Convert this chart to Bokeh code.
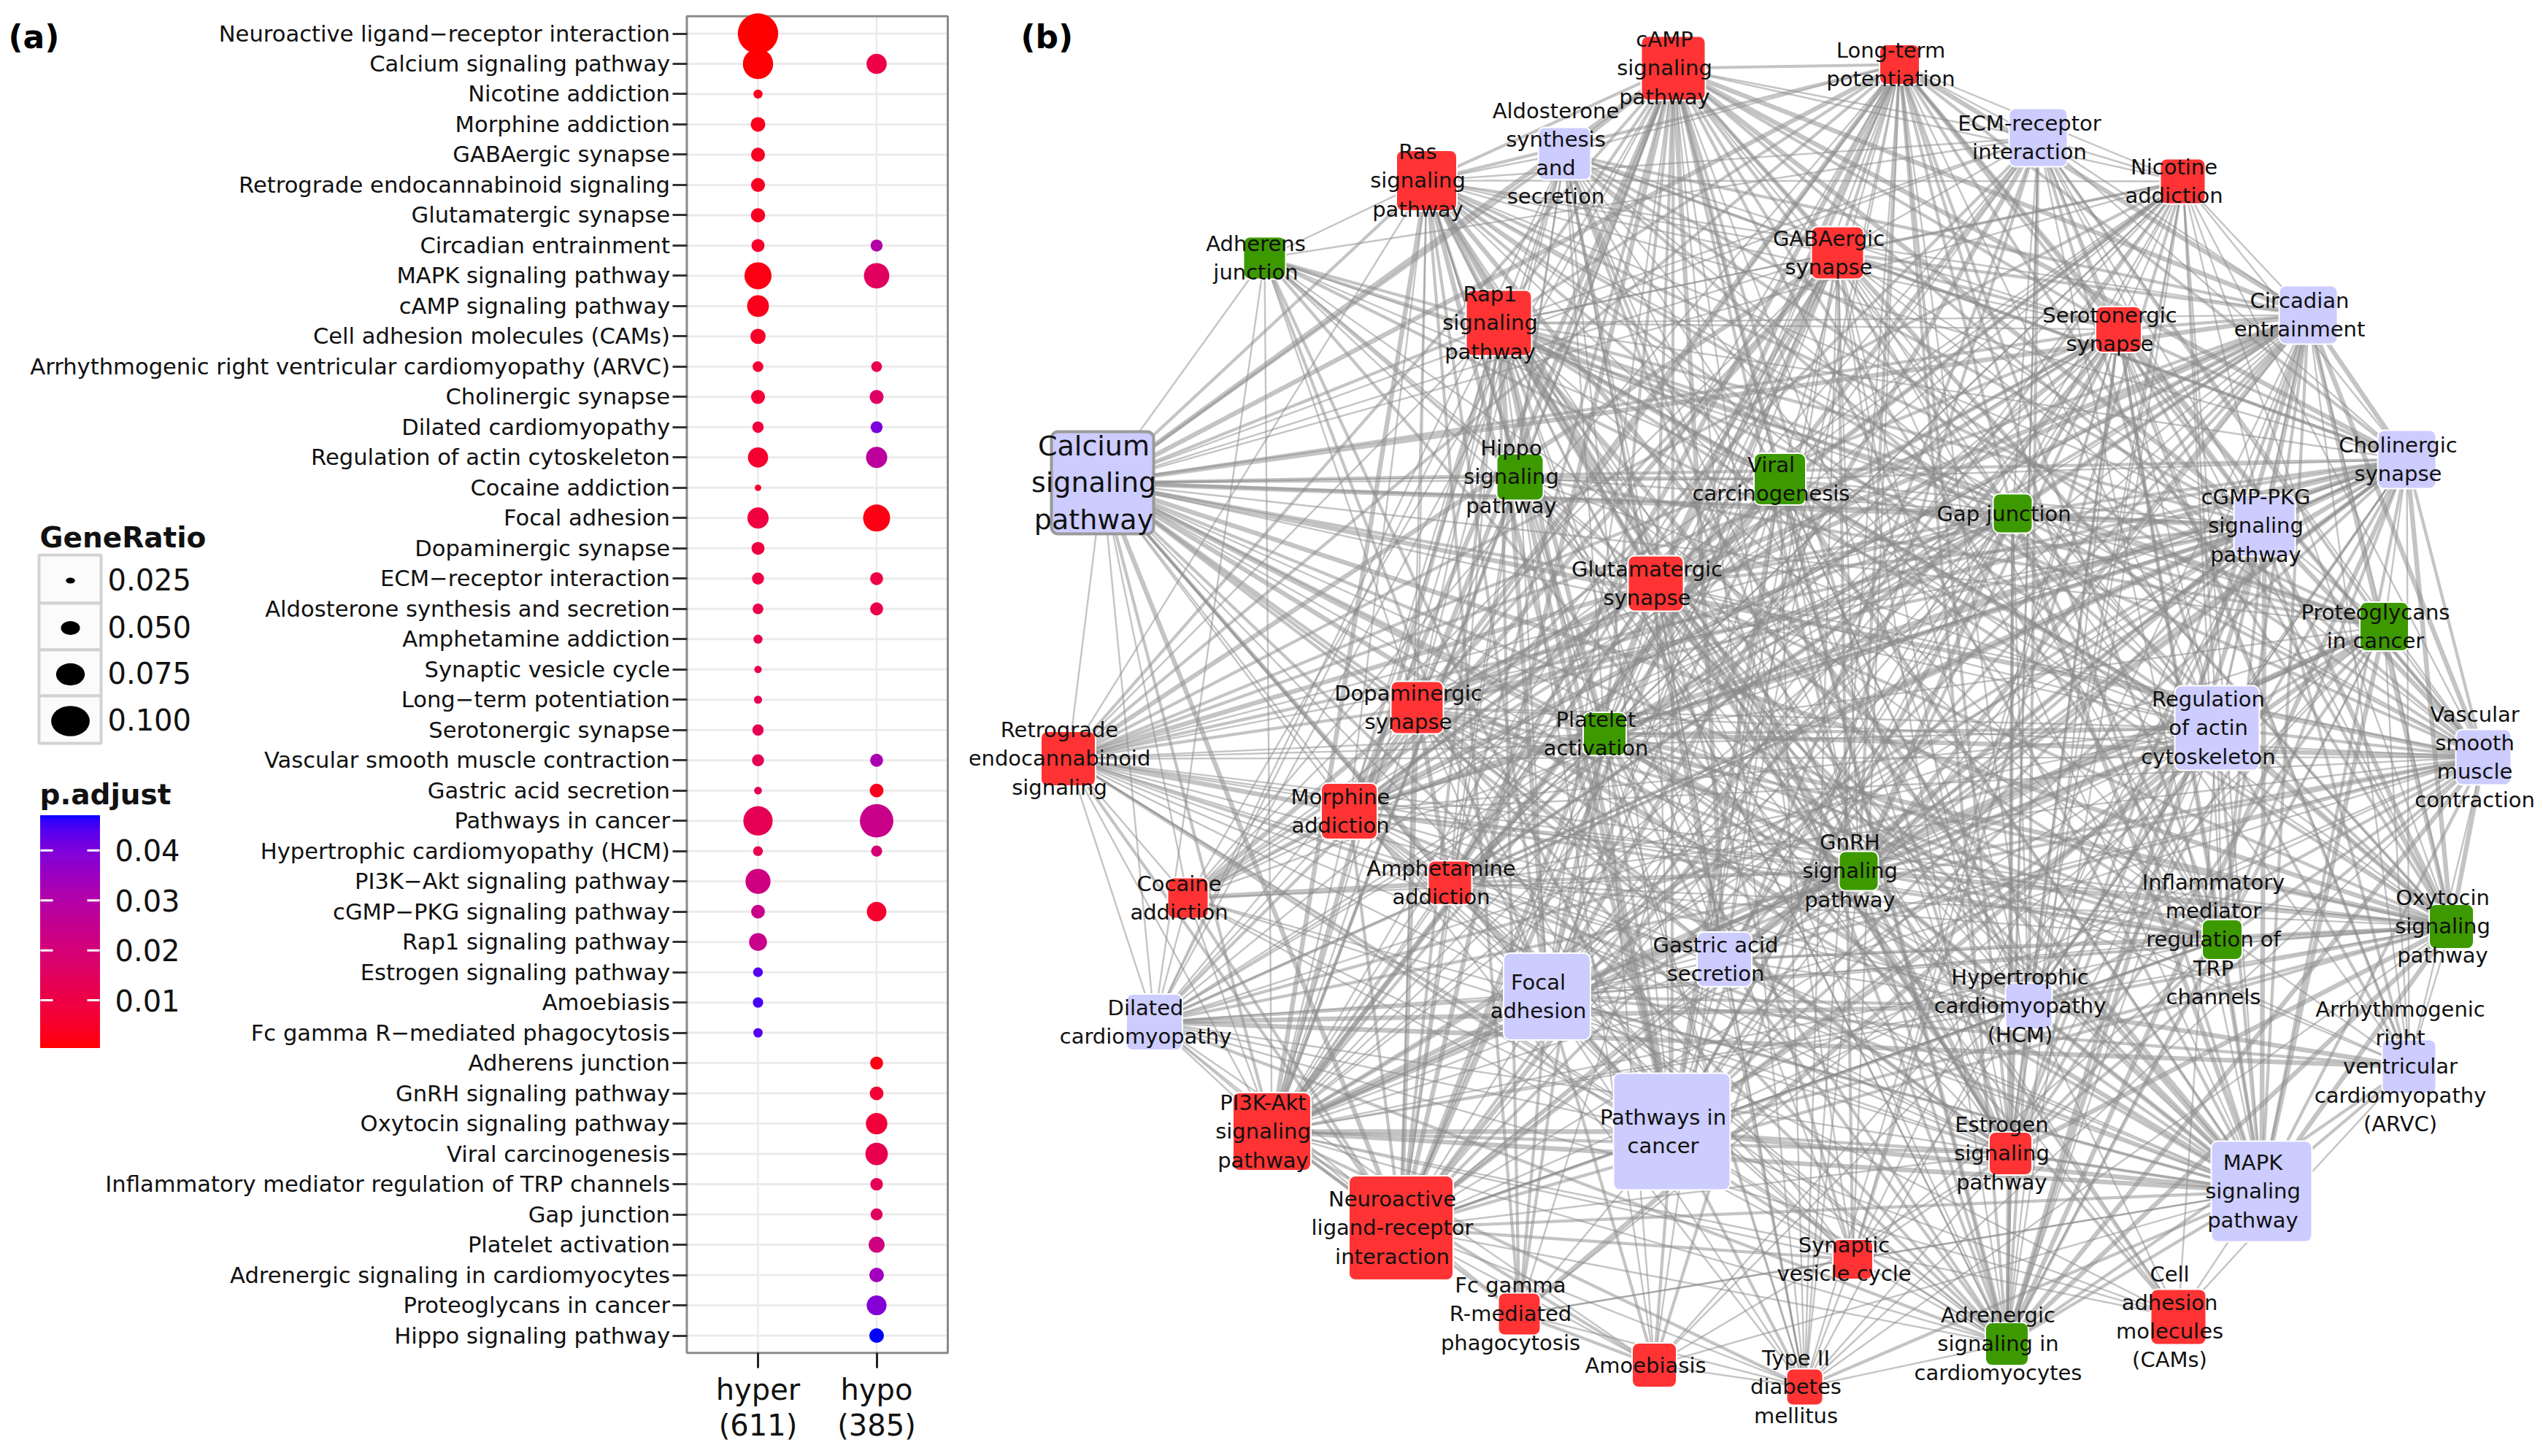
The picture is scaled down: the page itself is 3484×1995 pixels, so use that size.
import numpy as np
from bokeh.plotting import figure
from bokeh.models import ColumnDataSource, Range1d, FixedTicker, Label
from bokeh.layouts import row
from bokeh.embed import file_html
from bokeh.resources import INLINE
from bokeh.core.properties import value

# ====================== DATA : panel (a) dot plot ======================
categories = [
    "Neuroactive ligand−receptor interaction", "Calcium signaling pathway", "Nicotine addiction",
    "Morphine addiction", "GABAergic synapse", "Retrograde endocannabinoid signaling",
    "Glutamatergic synapse", "Circadian entrainment", "MAPK signaling pathway",
    "cAMP signaling pathway", "Cell adhesion molecules (CAMs)",
    "Arrhythmogenic right ventricular cardiomyopathy (ARVC)", "Cholinergic synapse",
    "Dilated cardiomyopathy", "Regulation of actin cytoskeleton", "Cocaine addiction",
    "Focal adhesion", "Dopaminergic synapse", "ECM−receptor interaction",
    "Aldosterone synthesis and secretion", "Amphetamine addiction", "Synaptic vesicle cycle",
    "Long−term potentiation", "Serotonergic synapse", "Vascular smooth muscle contraction",
    "Gastric acid secretion", "Pathways in cancer", "Hypertrophic cardiomyopathy (HCM)",
    "PI3K−Akt signaling pathway", "cGMP−PKG signaling pathway", "Rap1 signaling pathway",
    "Estrogen signaling pathway", "Amoebiasis", "Fc gamma R−mediated phagocytosis",
    "Adherens junction", "GnRH signaling pathway", "Oxytocin signaling pathway",
    "Viral carcinogenesis", "Inflammatory mediator regulation of TRP channels", "Gap junction",
    "Platelet activation", "Adrenergic signaling in cardiomyocytes", "Proteoglycans in cancer",
    "Hippo signaling pathway",
]
N = None
hyper_ratio = [0.131, 0.100, 0.035, 0.052, 0.050, 0.050, 0.051, 0.047, 0.090, 0.074,
               0.054, 0.040, 0.050, 0.042, 0.069, 0.027, 0.072, 0.047, 0.044, 0.040,
               0.035, 0.030, 0.032, 0.042, 0.044, 0.031, 0.097, 0.037, 0.084, 0.049,
               0.062, 0.037, 0.039, 0.036, N, N, N, N, N, N, N, N, N, N]
hyper_padj = [0.0005, 0.0008, 0.003, 0.003, 0.004, 0.004, 0.004, 0.005, 0.002, 0.003,
              0.005, 0.007, 0.007, 0.008, 0.006, 0.006, 0.009, 0.009, 0.010, 0.011,
              0.012, 0.012, 0.013, 0.013, 0.013, 0.014, 0.013, 0.012, 0.022, 0.024,
              0.024, 0.044, 0.045, 0.044, N, N, N, N, N, N, N, N, N, N]
hypo_ratio = [N, 0.069, N, N, N, N, N, 0.044, 0.085, N,
              N, 0.040, 0.050, 0.044, 0.072, N, 0.090, N, 0.047, 0.047,
              N, N, N, N, 0.047, 0.049, 0.110, 0.041, N, 0.067,
              N, N, N, N, 0.047, 0.049, 0.073, 0.076, 0.046, 0.044,
              0.056, 0.052, 0.068, 0.052]
hypo_padj = [N, 0.010, N, N, N, N, N, 0.030, 0.015, N,
             N, 0.012, 0.016, 0.040, 0.028, N, 0.002, N, 0.010, 0.011,
             N, N, N, N, 0.032, 0.003, 0.024, 0.020, N, 0.006,
             N, N, N, N, 0.002, 0.007, 0.008, 0.012, 0.014, 0.015,
             0.022, 0.034, 0.039, 0.047]
groups = ["hyper", "hypo"]
group_sizes = [611, 385]
legend_ratios = [0.025, 0.050, 0.075, 0.100]
colorbar_ticks = [0.01, 0.02, 0.03, 0.04]

# ====================== DATA : panel (b) enrichment map ======================
node_code = ["CAMP", "ALDO", "RAS", "ADH", "RAP1", "CALC", "HIPPO", "VIRAL", "LTP", "ECM",
             "NIC", "GABA", "SERO", "CIRC", "CHOL", "CGMP", "GAP", "GLUT", "DOPA", "PLT",
             "RETRO", "MORPH", "COC", "AMPH", "GAST", "FOCAL", "DCM", "PROTEO", "ACTIN", "VSMC",
             "GNRH", "TRP", "OXY", "HCM", "PI3K", "CANCER", "NEURO", "FC", "AMOEB", "T2D",
             "ESTRO", "SYN", "ADREN", "CAM", "MAPK", "ARVC"]
node_label = [
    "cAMP\nsignaling\npathway", "Aldosterone\nsynthesis\nand\nsecretion", "Ras\nsignaling\npathway",
    "Adherens\njunction", "Rap1\nsignaling\npathway", "Calcium\nsignaling\npathway",
    "Hippo\nsignaling\npathway", "Viral\ncarcinogenesis", "Long-term\npotentiation",
    "ECM-receptor\ninteraction", "Nicotine\naddiction", "GABAergic\nsynapse",
    "Serotonergic\nsynapse", "Circadian\nentrainment", "Cholinergic\nsynapse",
    "cGMP-PKG\nsignaling\npathway", "Gap junction", "Glutamatergic\nsynapse",
    "Dopaminergic\nsynapse", "Platelet\nactivation", "Retrograde\nendocannabinoid\nsignaling",
    "Morphine\naddiction", "Cocaine\naddiction", "Amphetamine\naddiction",
    "Gastric acid\nsecretion", "Focal\nadhesion", "Dilated\ncardiomyopathy",
    "Proteoglycans\nin cancer", "Regulation\nof actin\ncytoskeleton",
    "Vascular\nsmooth\nmuscle\ncontraction", "GnRH\nsignaling\npathway",
    "Inflammatory\nmediator\nregulation of\nTRP\nchannels", "Oxytocin\nsignaling\npathway",
    "Hypertrophic\ncardiomyopathy\n(HCM)", "PI3K-Akt\nsignaling\npathway", "Pathways in\ncancer",
    "Neuroactive\nligand-receptor\ninteraction", "Fc gamma\nR-mediated\nphagocytosis",
    "Amoebiasis", "Type II\ndiabetes\nmellitus", "Estrogen\nsignaling\npathway",
    "Synaptic\nvesicle cycle", "Adrenergic\nsignaling in\ncardiomyocytes",
    "Cell\nadhesion\nmolecules\n(CAMs)", "MAPK\nsignaling\npathway",
    "Arrhythmogenic\nright\nventricular\ncardiomyopathy\n(ARVC)"]
node_group = ["hyper", "both", "hyper", "hypo", "hyper", "both", "hypo", "hypo", "hyper", "both",
              "hyper", "hyper", "hyper", "both", "both", "both", "hypo", "hyper", "hyper", "hypo",
              "hyper", "hyper", "hyper", "hyper", "both", "both", "both", "hypo", "both", "both",
              "hypo", "hypo", "hypo", "both", "hyper", "both", "hyper", "hyper", "hyper", "hyper",
              "hyper", "hyper", "hypo", "hyper", "both", "both"]
# network layout coordinates
node_x = [2292, 2143, 1954, 1732, 2053, 1510, 2082, 2438, 2602, 2792,
          2990, 2517, 2902, 3162, 3297, 3102, 2757, 2268, 1941, 2198,
          1463, 1848, 1627, 1986, 2362, 2119, 1581, 3266, 3037, 3402,
          2546, 3044, 3358, 2779, 1742, 2290, 1919, 2081, 2266, 2472,
          2754, 2538, 2749, 2984, 3098, 3300]
node_y = [93, 210, 247, 353, 442, 661, 653, 656, 88, 188,
          248, 346, 451, 431, 629, 720, 703, 799, 969, 1005,
          1039, 1111, 1230, 1209, 1314, 1365, 1400, 858, 997, 1037,
          1193, 1287, 1269, 1378, 1550, 1550, 1682, 1800, 1870, 1900,
          1580, 1725, 1841, 1804, 1632, 1461]
node_size = [88, 72, 83, 58, 90, 140, 64, 71, 55, 80,
             62, 72, 63, 80, 80, 84, 54, 76, 72, 59,
             75, 77, 56, 60, 75, 119, 77, 67, 116, 76,
             54, 55, 61, 64, 107, 160, 143, 58, 61, 50,
             59, 55, 59, 76, 138, 74]
node_links = [
    "CAMP | ALDO:3 RAS:2 RAP1:2 CALC:3 LTP:2 NIC:1 GABA:2 SERO:2 CIRC:3 CHOL:3 CGMP:3 GAP:2 GLUT:2 DOPA:3 PLT:2 RETRO:2 MORPH:3 COC:1 AMPH:2 GAST:3 VSMC:2 GNRH:2 TRP:2 OXY:2 PI3K:2 CANCER:2 NEURO:3 ESTRO:2 SYN:1 ADREN:3 MAPK:2 HIPPO:1 VIRAL:1 ECM:1 DCM:1 HCM:1 T2D:1 ACTIN:1 FOCAL:1",
    "ALDO | RAS:1 RAP1:1 CALC:2 LTP:1 GABA:1 SERO:1 CIRC:2 CHOL:2 CGMP:2 GAP:1 GLUT:1 DOPA:1 PLT:1 MORPH:1 AMPH:1 GAST:2 VSMC:2 GNRH:2 TRP:1 OXY:2 ESTRO:1 ADREN:2 NEURO:1 MAPK:1 PI3K:1 CANCER:1 T2D:1 HCM:1 DCM:1",
    "RAS | ADH:1 RAP1:3 CALC:2 VIRAL:2 LTP:2 ECM:1 NIC:1 GABA:1 SERO:1 CIRC:1 CHOL:1 CGMP:1 GAP:2 GLUT:2 DOPA:1 PLT:2 RETRO:1 MORPH:1 FOCAL:2 PROTEO:2 ACTIN:2 VSMC:1 GNRH:2 TRP:1 OXY:1 PI3K:3 CANCER:3 NEURO:1 FC:2 ESTRO:2 ADREN:1 MAPK:3 T2D:1 CAM:1 HIPPO:1",
    "ADH | RAP1:2 CALC:1 HIPPO:2 VIRAL:1 ECM:1 GAP:1 FOCAL:2 PROTEO:2 ACTIN:2 CANCER:2 CAM:2 MAPK:1 PI3K:1 ARVC:1 DCM:1 GLUT:1 DOPA:1",
    "RAP1 | CALC:2 HIPPO:1 VIRAL:2 LTP:2 ECM:1 NIC:1 GABA:1 SERO:1 CIRC:1 CHOL:1 CGMP:2 GAP:2 GLUT:2 DOPA:1 PLT:3 RETRO:1 MORPH:1 AMPH:1 GAST:1 FOCAL:3 PROTEO:2 ACTIN:3 VSMC:2 GNRH:2 TRP:1 OXY:2 HCM:1 PI3K:3 CANCER:3 NEURO:2 FC:2 ESTRO:2 ADREN:1 CAM:2 MAPK:3 SYN:1 DCM:1",
    "CALC | HIPPO:1 VIRAL:1 LTP:3 ECM:1 NIC:1 GABA:1 SERO:2 CIRC:3 CHOL:2 CGMP:3 GAP:2 GLUT:2 DOPA:2 PLT:2 RETRO:1 MORPH:1 COC:1 AMPH:2 GAST:2 FOCAL:1 DCM:1 PROTEO:1 ACTIN:1 VSMC:3 GNRH:3 TRP:2 OXY:3 HCM:1 PI3K:2 CANCER:2 NEURO:3 T2D:1 ESTRO:2 SYN:1 ADREN:2 MAPK:3 ARVC:1",
    "HIPPO | VIRAL:2 GAP:1 FOCAL:1 PROTEO:2 ACTIN:1 PI3K:2 CANCER:3 MAPK:2 CAM:1 ESTRO:1 GNRH:1 DOPA:1 GLUT:1 AMOEB:1",
    "VIRAL | GAP:1 FOCAL:2 PROTEO:2 ACTIN:2 PI3K:3 CANCER:3 MAPK:2 CAM:1 HCM:1 ESTRO:1 GNRH:1 OXY:1 AMOEB:1 FC:1 CGMP:1 CHOL:1 PLT:1 ADREN:1 LTP:1 GLUT:1 T2D:1",
    "LTP | ECM:1 NIC:1 GABA:2 SERO:2 CIRC:3 CHOL:2 CGMP:2 GAP:2 GLUT:3 DOPA:3 PLT:1 RETRO:2 MORPH:2 COC:1 AMPH:3 GAST:1 VSMC:2 GNRH:2 TRP:2 OXY:2 NEURO:1 ESTRO:2 SYN:1 ADREN:2 MAPK:2 PI3K:1 CANCER:1 T2D:1 FOCAL:1 ACTIN:1 HCM:1",
    "ECM | NIC:1 GABA:1 CIRC:1 CHOL:1 CGMP:1 GAP:1 PLT:1 FOCAL:3 DCM:2 PROTEO:2 ACTIN:2 VSMC:1 HCM:2 PI3K:3 CANCER:2 AMOEB:2 ARVC:2 MAPK:1 SERO:1 GLUT:1 ESTRO:1 OXY:1 ADREN:1",
    "NIC | GABA:2 SERO:1 CIRC:1 CHOL:1 CGMP:1 GLUT:2 DOPA:1 RETRO:2 MORPH:2 COC:1 AMPH:1 SYN:2 NEURO:2 GAST:1 OXY:1 TRP:1 ADREN:1 PLT:1 VSMC:1 ESTRO:1 MAPK:1 CANCER:1 PI3K:1 HCM:1 DCM:1 ACTIN:1 FOCAL:1",
    "GABA | SERO:2 CIRC:2 CHOL:2 CGMP:1 GAP:1 GLUT:3 DOPA:2 RETRO:3 MORPH:3 COC:1 AMPH:2 GAST:1 NEURO:3 SYN:2 TRP:1 OXY:1 GNRH:1 ESTRO:1 MAPK:1 ADREN:1 VSMC:1 PLT:1 CANCER:1 PI3K:1 FOCAL:1 ACTIN:1 HCM:1 T2D:1",
    "SERO | CIRC:2 CHOL:2 CGMP:2 GAP:2 GLUT:2 DOPA:2 PLT:1 RETRO:2 MORPH:2 COC:1 AMPH:2 GAST:1 VSMC:2 GNRH:2 TRP:2 OXY:2 NEURO:3 ESTRO:2 SYN:1 ADREN:1 MAPK:2 PI3K:1 CANCER:1 FOCAL:1 ACTIN:1 HCM:1 ARVC:1 T2D:1",
    "CIRC | CHOL:3 CGMP:3 GAP:2 GLUT:3 DOPA:3 PLT:2 RETRO:2 MORPH:3 COC:1 AMPH:2 GAST:2 VSMC:3 GNRH:3 TRP:2 OXY:3 NEURO:2 ESTRO:2 SYN:1 ADREN:3 MAPK:2 PI3K:1 CANCER:1 HCM:1 DCM:1 ARVC:1 FOCAL:1 ACTIN:1 PROTEO:1",
    "CHOL | CGMP:3 GAP:2 GLUT:2 DOPA:3 PLT:2 RETRO:2 MORPH:3 COC:1 AMPH:2 GAST:2 VSMC:2 GNRH:2 TRP:2 OXY:3 NEURO:2 ESTRO:2 SYN:1 ADREN:3 MAPK:2 PI3K:2 CANCER:2 HCM:1 DCM:1 ARVC:1 PROTEO:1 ACTIN:1 FOCAL:1",
    "CGMP | GAP:2 GLUT:2 DOPA:2 PLT:3 RETRO:1 MORPH:2 AMPH:1 GAST:2 VSMC:3 GNRH:2 TRP:2 OXY:3 HCM:2 DCM:2 PI3K:2 CANCER:2 NEURO:2 ESTRO:2 ADREN:3 MAPK:3 ARVC:2 ACTIN:1 FOCAL:1 PROTEO:1 T2D:1",
    "GAP | GLUT:2 DOPA:2 PLT:2 RETRO:1 MORPH:1 COC:1 AMPH:2 GAST:1 VSMC:2 GNRH:3 TRP:2 OXY:2 HCM:1 DCM:1 PI3K:1 CANCER:2 NEURO:1 ESTRO:2 ADREN:2 MAPK:3 ARVC:1 ACTIN:1 FOCAL:1 PROTEO:1",
    "GLUT | DOPA:3 PLT:1 RETRO:3 MORPH:2 COC:2 AMPH:3 GAST:1 VSMC:1 GNRH:2 TRP:2 OXY:2 NEURO:3 ESTRO:2 SYN:2 ADREN:1 MAPK:2 PI3K:1 CANCER:1 HCM:1 ACTIN:1 FOCAL:1 T2D:1",
    "DOPA | PLT:1 RETRO:2 MORPH:3 COC:3 AMPH:3 GAST:1 VSMC:1 GNRH:2 TRP:2 OXY:2 NEURO:3 ESTRO:2 SYN:1 ADREN:2 MAPK:2 PI3K:1 CANCER:1 ACTIN:1 FOCAL:1 HCM:1 DCM:1",
    "PLT | RETRO:1 MORPH:1 AMPH:1 GAST:2 VSMC:3 GNRH:2 TRP:2 OXY:3 FOCAL:3 ACTIN:2 PI3K:2 CANCER:2 NEURO:1 FC:2 ESTRO:1 ADREN:2 MAPK:2 HCM:1 DCM:1 ARVC:1 PROTEO:1 AMOEB:1 T2D:1",
    "RETRO | MORPH:3 COC:1 AMPH:2 GAST:1 VSMC:1 GNRH:1 TRP:1 OXY:1 NEURO:2 ESTRO:1 SYN:2 ADREN:1 MAPK:1 PI3K:1 CANCER:1 DCM:1 HCM:1 FOCAL:1 ACTIN:1",
    "MORPH | COC:2 AMPH:3 GAST:1 VSMC:1 GNRH:1 TRP:2 OXY:1 NEURO:2 ESTRO:1 SYN:1 ADREN:1 MAPK:1 PI3K:1 CANCER:1 FOCAL:1 ACTIN:1 HCM:1 DCM:1",
    "COC | AMPH:3 NEURO:2 SYN:1 GNRH:1 MAPK:1 ESTRO:1 CANCER:1 PI3K:1 DCM:1",
    "AMPH | GAST:1 VSMC:1 GNRH:2 TRP:1 OXY:1 NEURO:2 ESTRO:1 SYN:1 ADREN:1 MAPK:2 PI3K:1 CANCER:1 FOCAL:1 ACTIN:1",
    "GAST | VSMC:2 GNRH:1 TRP:1 OXY:2 NEURO:1 ESTRO:1 ADREN:2 MAPK:1 CANCER:1 PI3K:1 HCM:1 FOCAL:1 ACTIN:1 T2D:1",
    "FOCAL | DCM:2 PROTEO:3 ACTIN:3 VSMC:1 GNRH:1 TRP:1 OXY:1 HCM:2 PI3K:3 CANCER:3 NEURO:1 FC:2 AMOEB:2 ESTRO:1 ADREN:1 CAM:1 MAPK:2 ARVC:2 T2D:1",
    "DCM | PROTEO:1 ACTIN:2 VSMC:2 OXY:1 HCM:3 PI3K:1 CANCER:1 ADREN:2 MAPK:1 ARVC:3 CAM:1 AMOEB:1 FC:1 NEURO:1",
    "PROTEO | ACTIN:2 VSMC:1 GNRH:1 TRP:1 OXY:1 HCM:1 PI3K:3 CANCER:3 FC:1 AMOEB:1 ESTRO:2 ADREN:1 MAPK:3 ARVC:1",
    "ACTIN | VSMC:2 GNRH:1 TRP:1 OXY:2 HCM:2 PI3K:2 CANCER:2 NEURO:1 FC:3 AMOEB:1 ESTRO:1 ADREN:1 CAM:1 MAPK:2 ARVC:2",
    "VSMC | GNRH:2 TRP:2 OXY:3 HCM:2 PI3K:1 CANCER:1 NEURO:1 ESTRO:2 ADREN:3 MAPK:2 ARVC:1 T2D:1",
    "GNRH | TRP:2 OXY:3 HCM:1 PI3K:1 CANCER:2 NEURO:1 ESTRO:3 ADREN:2 MAPK:3 T2D:1",
    "TRP | OXY:2 HCM:1 PI3K:1 CANCER:1 NEURO:2 ESTRO:2 ADREN:2 MAPK:2 SYN:1",
    "OXY | HCM:2 PI3K:1 CANCER:2 NEURO:2 ESTRO:3 ADREN:3 MAPK:3 ARVC:1 T2D:1",
    "HCM | PI3K:1 CANCER:1 ADREN:2 MAPK:1 ARVC:3 ESTRO:1 NEURO:1",
    "PI3K | CANCER:3 NEURO:2 FC:2 AMOEB:2 T2D:2 ESTRO:2 ADREN:1 CAM:1 MAPK:3 SYN:1",
    "CANCER | NEURO:1 FC:1 AMOEB:2 T2D:2 ESTRO:2 ADREN:1 CAM:1 MAPK:3",
    "NEURO | AMOEB:1 T2D:1 ESTRO:1 SYN:2 ADREN:1 MAPK:2",
    "FC | AMOEB:2 T2D:1 MAPK:1 SYN:1",
    "AMOEB | T2D:1 ESTRO:1 MAPK:1",
    "T2D | ESTRO:1 SYN:1 ADREN:1 MAPK:2",
    "ESTRO | SYN:1 ADREN:2 MAPK:2",
    "SYN | ADREN:1 MAPK:1",
    "ADREN | MAPK:2 ARVC:2",
    "CAM | MAPK:1 ARVC:1",
    "MAPK | ARVC:2",
]

# ====================== colour scale (ggplot-like Lab gradient red -> blue) ======================
_M = np.array([[0.4124564, 0.3575761, 0.1804375],
               [0.2126729, 0.7151522, 0.0721750],
               [0.0193339, 0.1191920, 0.9503041]])
_Minv = np.linalg.inv(_M)
_WHITE = np.array([0.95047, 1.0, 1.08883])


def _f(t):
    d = 6 / 29
    return np.where(t > d ** 3, np.cbrt(t), t / (3 * d * d) + 4 / 29)


def _finv(t):
    d = 6 / 29
    return np.where(t > d, t ** 3, 3 * d * d * (t - 4 / 29))


def rgb_to_lab(rgb):
    c = np.array(rgb, float) / 255
    lin = np.where(c <= 0.04045, c / 12.92, ((c + 0.055) / 1.055) ** 2.4)
    fx, fy, fz = _f(_M @ lin / _WHITE)
    return np.array([116 * fy - 16, 500 * (fx - fy), 200 * (fy - fz)])


def lab_to_hex(lab):
    L, a, b = lab
    fy = (L + 16) / 116
    xyz = _finv(np.array([fy + a / 500, fy, fy - b / 200])) * _WHITE
    lin = np.clip(_Minv @ xyz, 0, 1)
    srgb = np.where(lin <= 0.0031308, 12.92 * lin, 1.055 * lin ** (1 / 2.4) - 0.055)
    r, g, bb = np.round(np.clip(srgb, 0, 1) * 255).astype(int)
    return "#%02x%02x%02x" % (r, g, bb)


LAB_LOW, LAB_HIGH = rgb_to_lab([255, 0, 0]), rgb_to_lab([0, 0, 255])
all_p = [p for p in hyper_padj + hypo_padj if p is not None]
PMIN, PMAX = min(all_p), max(all_p)


def padj_color(p):
    t = (p - PMIN) / (PMAX - PMIN)
    return lab_to_hex(LAB_LOW + t * (LAB_HIGH - LAB_LOW))


def ratio_diameter(r):
    # calibrated on the GeneRatio legend keys (0.025 -> 8 px, 0.100 -> 41.5 px)
    return 8 + (r - 0.025) * (41.5 - 8) / 0.075


FONT = "DejaVu Sans"
ORG = 0            # page origin of the layout (screen px)
PAGE_H = 1990

# ====================== PANEL (a) ======================
PA_W = 1328
NCAT = len(categories)
PX_X = 162.5                          # screen px per group step
PX_Y = (1829.5 - 45.5) / (NCAT - 1)   # screen px per category step
X0 = 1 - (1038 - ORG) / PX_X
X1 = X0 + PA_W / PX_X
Y1 = NCAT + (45.5 - ORG) / PX_Y
Y0 = Y1 - PAGE_H / PX_Y


def xd(sx):
    return X0 + (sx - ORG) / PX_X


def yd(sy):
    return Y1 - (sy - ORG) / PX_Y


cat_y = [NCAT - i for i in range(NCAT)]           # first category on top
XL, XR = 0.4, len(groups) + 0.6
YB, YT = 1 - 0.57, NCAT + 0.57

pa = figure(width=PA_W, height=PAGE_H, x_range=Range1d(X0, X1), y_range=Range1d(Y0, Y1),
            output_backend="svg", toolbar_location=None, min_border=0)
pa.outline_line_color = None
pa.grid.visible = False
pa.background_fill_color = "white"
pa.border_fill_color = "white"

# grid lines + panel border
pa.segment(x0=XL, x1=XR, y0=cat_y, y1=cat_y, line_color="#ebebeb", line_width=3)
pa.segment(x0=list(range(1, len(groups) + 1)), x1=list(range(1, len(groups) + 1)),
           y0=YB, y1=YT, line_color="#ebebeb", line_width=2.5)
pa.quad(left=XL, right=XR, bottom=YB, top=YT, fill_color=None, line_color="#8a8a8a", line_width=3)

dx, dy, dd, dc = [], [], [], []
for gi, (ratios, padjs) in enumerate([(hyper_ratio, hyper_padj), (hypo_ratio, hypo_padj)]):
    for yy, r, pj in zip(cat_y, ratios, padjs):
        if r is None:
            continue
        dx.append(gi + 1)
        dy.append(yy)
        dd.append(ratio_diameter(r))
        dc.append(padj_color(pj))
pa.scatter(x="x", y="y", size="d", marker="circle", fill_color="c", line_color=None,
           source=ColumnDataSource(dict(x=dx, y=dy, d=dd, c=dc)))

ya = pa.yaxis[0]
ya.fixed_location = XL
ya.ticker = FixedTicker(ticks=cat_y)
yover = {}
for yy, c in zip(cat_y, categories):
    yover[yy] = c
    yover[str(yy)] = c
ya.major_label_overrides = yover
ya.axis_line_color = None
ya.minor_tick_line_color = None
ya.major_tick_line_color = "#333333"
ya.major_tick_line_width = 3
ya.major_tick_out = 20
ya.major_tick_in = 0
ya.major_label_standoff = 3
ya.major_label_text_font = FONT
ya.major_label_text_font_size = "30.6px"
ya.major_label_text_color = "#111111"

xa = pa.xaxis[0]
xa.fixed_location = YB
xa.ticker = FixedTicker(ticks=list(range(1, len(groups) + 1)))
xover = {}
for i, (g, n) in enumerate(zip(groups, group_sizes)):
    xover[i + 1] = f"{g}\n({n})"
    xover[str(i + 1)] = f"{g}\n({n})"
xa.major_label_overrides = xover
xa.axis_line_color = None
xa.minor_tick_line_color = None
xa.major_tick_line_color = "#222222"
xa.major_tick_line_width = 3
xa.major_tick_out = 21
xa.major_tick_in = 0
xa.major_label_standoff = 6
xa.major_label_text_font = FONT
xa.major_label_text_font_size = "40px"
xa.major_label_text_color = "#111111"
xa.major_label_text_line_height = 1.07

# ---- GeneRatio legend ----
key_top = [760, 826, 890, 953]
key_bot = [826, 890, 953, 1018]
pa.quad(left=xd(53), right=xd(138), top=[yd(t) for t in key_top], bottom=[yd(b) for b in key_bot],
        fill_color="#fbfbfb", line_color="#d2d2d2", line_width=4)
kd = [ratio_diameter(r) for r in legend_ratios]
pa.ellipse(x=xd(96), y=[yd((t + b) / 2 + 2) for t, b in zip(key_top, key_bot)],
           width=[d * 1.2 + 3 for d in kd], height=kd, width_units="screen", height_units="screen",
           fill_color="black", line_color=None)
pa.text(x=xd(147), y=[yd((t + b) / 2) for t, b in zip(key_top, key_bot)],
        text=["%.3f" % r for r in legend_ratios], text_font=value(FONT), text_font_size="40px",
        text_baseline="middle", text_align="left", text_color="#111111")
pa.add_layout(Label(x=xd(54), y=yd(736), text="GeneRatio", text_font=FONT, text_font_size="39px",
                    text_font_style="bold", text_baseline="middle", text_color="#111111"))

# ---- p.adjust colour bar ----
CB_L, CB_R, CB_T, CB_B = 55, 136, 1117, 1435
nslice = 160
edges = np.linspace(PMIN, PMAX, nslice + 1)


def cb_y(v):
    return yd(CB_B - (v - PMIN) / (PMAX - PMIN) * (CB_B - CB_T))


cols = [padj_color((a + b) / 2) for a, b in zip(edges[:-1], edges[1:])]
pa.quad(left=xd(CB_L), right=xd(CB_R), bottom=[cb_y(v) for v in edges[:-1]],
        top=[cb_y(v) for v in edges[1:]], fill_color=cols, line_color=cols, line_width=1)
tick_y = [cb_y(v) for v in colorbar_ticks]
pa.segment(x0=xd(CB_L), x1=xd(CB_L + 17), y0=tick_y, y1=tick_y, line_color="white", line_width=3)
pa.segment(x0=xd(CB_R - 17), x1=xd(CB_R), y0=tick_y, y1=tick_y, line_color="white", line_width=3)
pa.text(x=xd(157), y=tick_y, text=["%.2f" % v for v in colorbar_ticks], text_font=value(FONT),
        text_font_size="40px", text_baseline="middle", text_align="left", text_color="#111111")
pa.add_layout(Label(x=xd(54), y=yd(1088), text="p.adjust", text_font=FONT, text_font_size="39px",
                    text_font_style="bold", text_baseline="middle", text_color="#111111"))

pa.add_layout(Label(x=xd(11), y=yd(50), text="(a)", text_font=FONT, text_font_size="44px",
                    text_font_style="bold", text_baseline="middle", text_color="black"))

# ====================== PANEL (b) ======================
PB_X0 = ORG + PA_W
PB_W = 3478 - PB_X0
pb = figure(width=PB_W, height=PAGE_H, x_range=Range1d(PB_X0, PB_X0 + PB_W),
            y_range=Range1d(ORG + PAGE_H, ORG), output_backend="svg", toolbar_location=None,
            x_axis_location=None, y_axis_location=None, min_border=0)
pb.grid.visible = False
pb.outline_line_color = None
pb.background_fill_color = "white"
pb.border_fill_color = "white"

idx = {c: i for i, c in enumerate(node_code)}
seen = {}
for line in node_links:
    src, rest = line.split("|")
    src = src.strip()
    for tok in rest.split():
        dst, w = tok.split(":")
        key = tuple(sorted((src, dst)))
        seen[key] = max(seen.get(key, 0), int(w))
WIDTH = {1: 2.4, 2: 4.2, 3: 6.4}
ex0, ey0, ex1, ey1, ew = [], [], [], [], []
for (a, b), w in sorted(seen.items(), key=lambda kv: kv[1]):
    ex0.append(node_x[idx[a]]); ey0.append(node_y[idx[a]])
    ex1.append(node_x[idx[b]]); ey1.append(node_y[idx[b]])
    ew.append(WIDTH[w])
pb.segment(x0="x0", y0="y0", x1="x1", y1="y1", line_width="w", line_color="#8a8a8a",
           line_alpha=0.5, source=ColumnDataSource(dict(x0=ex0, y0=ey0, x1=ex1, y1=ey1, w=ew)))

GROUP_COLOR = {"hyper": "#ff3333", "hypo": "#3d9900", "both": "#ccccff"}
half = [s / 2 for s in node_size]
# the largest-font node (Calcium) is drawn selected in the reference: grey outline
node_line = ["#9a9a9a" if c == "CALC" else "white" for c in node_code]
node_lw = [4 if c == "CALC" else 2 for c in node_code]
pb.quad(left=[x - h for x, h in zip(node_x, half)], right=[x + h for x, h in zip(node_x, half)],
        top=[y - h for y, h in zip(node_y, half)], bottom=[y + h for y, h in zip(node_y, half)],
        fill_color=[GROUP_COLOR[g] for g in node_group], line_color=node_line, line_width=node_lw,
        border_radius=9)
fs = ["38px" if c == "CALC" else "29px" for c in node_code]
pb.text(x="x", y="y", text="t", text_font_size="fs", x_offset=-12,
        source=ColumnDataSource(dict(x=node_x, y=node_y, t=node_label, fs=fs)),
        text_font=value(FONT), text_align="center", text_baseline="middle",
        text_line_height=1.15, text_color="#111111")
pb.add_layout(Label(x=1398, y=50, text="(b)", text_font=FONT, text_font_size="44px",
                    text_font_style="bold", text_baseline="middle", text_color="black"))

layout = row(pa, pb)
open("out.html", "w").write(file_html(layout, INLINE, title="Enrichment dot plot and map"))
